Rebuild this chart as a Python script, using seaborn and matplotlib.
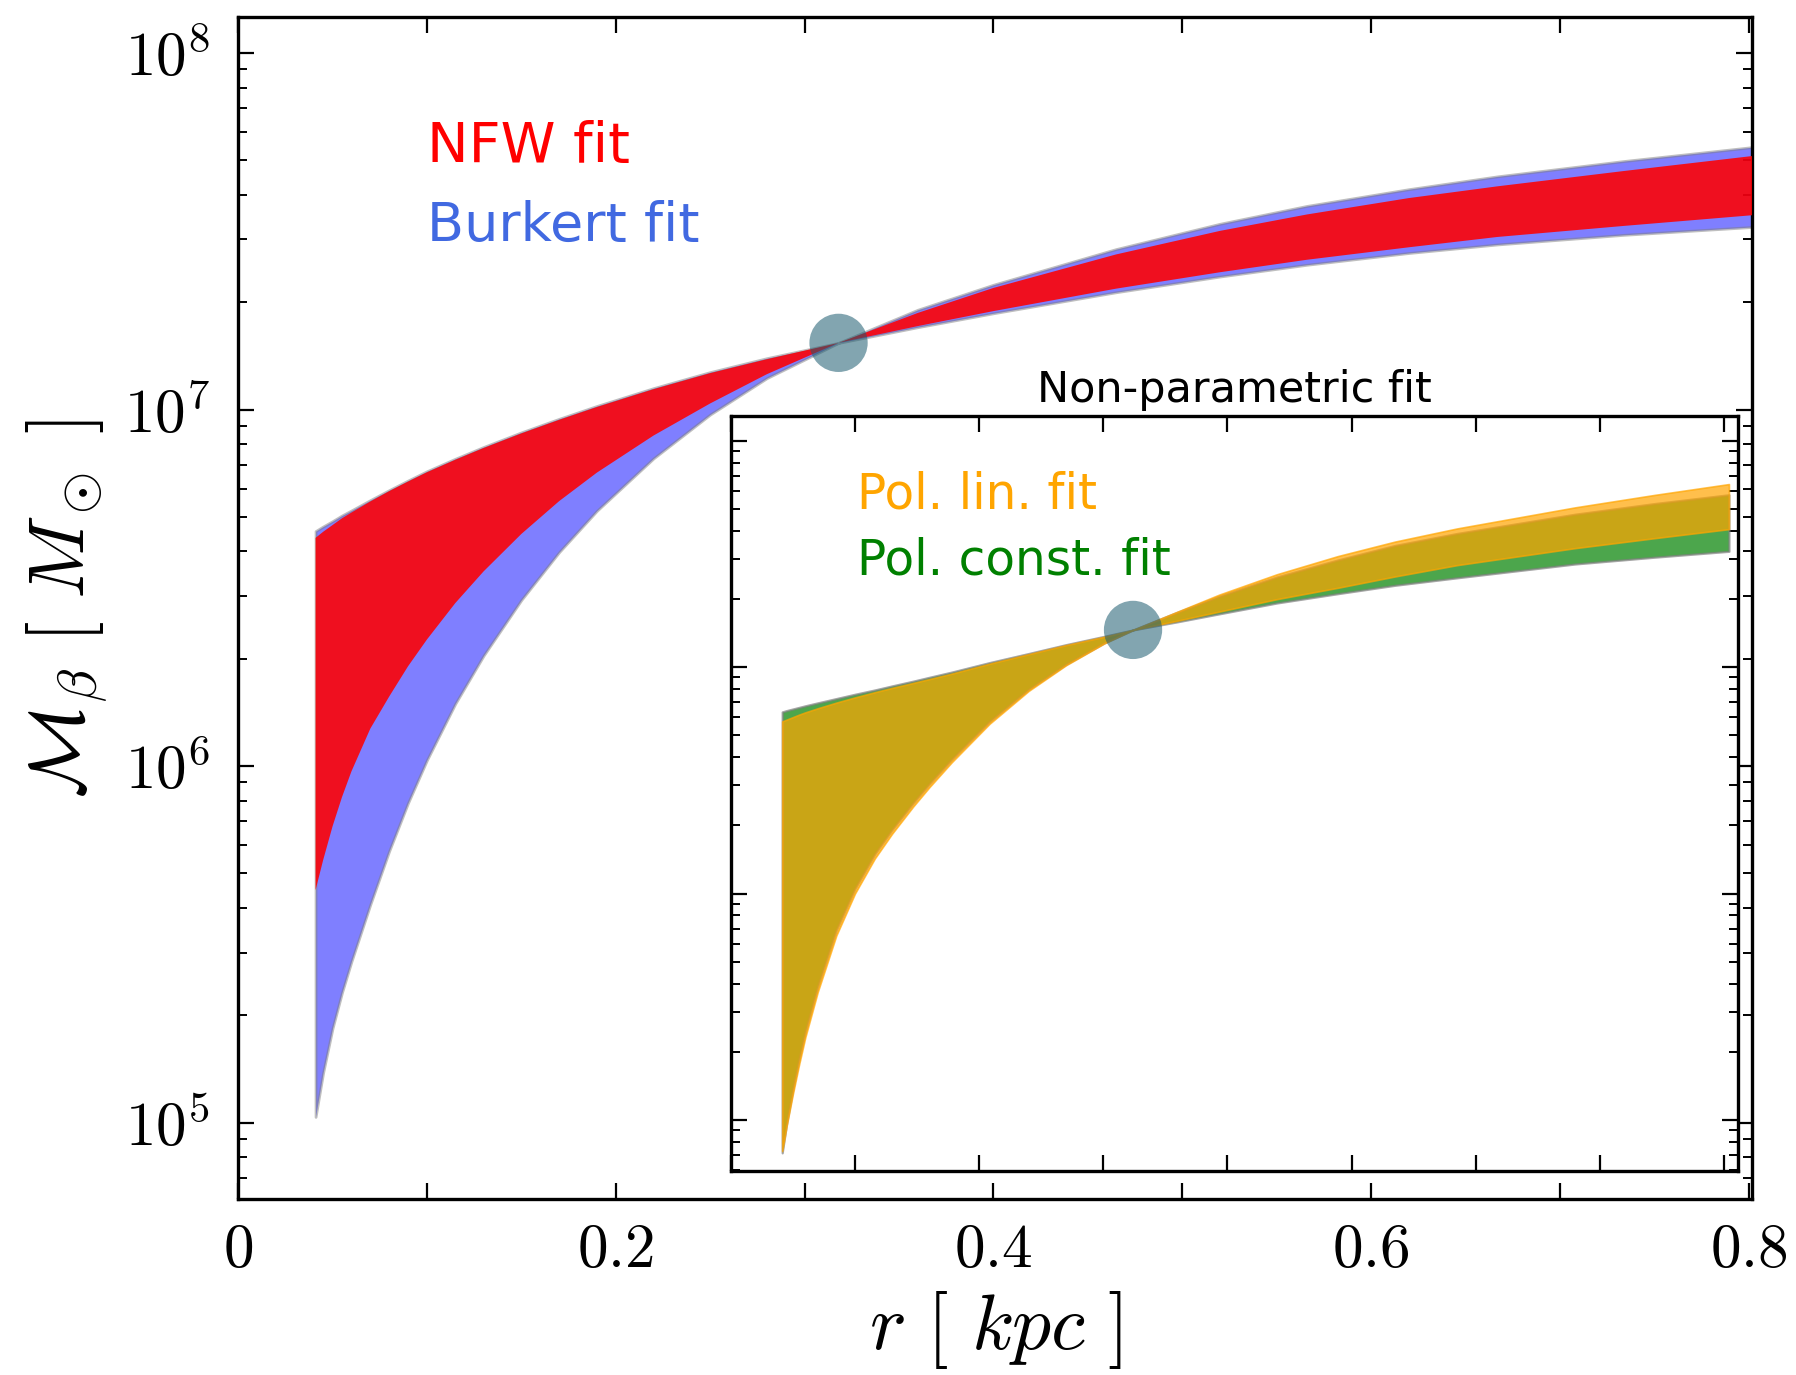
import numpy as np
import matplotlib
matplotlib.use("Agg")
import matplotlib.pyplot as plt
import seaborn as sns
from matplotlib.ticker import FixedLocator, FixedFormatter, LogLocator, NullFormatter

# ---------------- data (log10 of M in solar masses) ----------------
r_main = [0.041, 0.045, 0.05, 0.055, 0.06, 0.07, 0.08, 0.09, 0.10, 0.115, 0.13, 0.15,
          0.17, 0.19, 0.22, 0.25, 0.28, 0.318, 0.36, 0.40, 0.465, 0.52, 0.566, 0.62,
          0.667, 0.734, 0.802]
burkert_a = [6.659, 6.672, 6.687, 6.703, 6.717, 6.746, 6.774, 6.801, 6.827, 6.862, 6.895, 6.936,
             6.974, 7.010, 7.060, 7.105, 7.144, 7.187, 7.231, 7.270, 7.329, 7.373, 7.406, 7.439,
             7.463, 7.490, 7.512]
burkert_b = [5.016, 5.140, 5.265, 5.365, 5.452, 5.612, 5.762, 5.897, 6.017, 6.175, 6.310, 6.466,
             6.600, 6.716, 6.863, 6.986, 7.088, 7.187, 7.280, 7.350, 7.450, 7.521, 7.571, 7.618,
             7.654, 7.697, 7.736]
nfw_a = [6.640, 6.657, 6.676, 6.695, 6.711, 6.742, 6.771, 6.798, 6.824, 6.859, 6.892, 6.933,
         6.971, 7.007, 7.057, 7.102, 7.141, 7.187, 7.234, 7.276, 7.339, 7.385, 7.420, 7.455,
         7.484, 7.515, 7.545]
nfw_b = [5.652, 5.736, 5.831, 5.913, 5.985, 6.105, 6.195, 6.280, 6.355, 6.457, 6.546, 6.651,
         6.743, 6.823, 6.927, 7.017, 7.099, 7.187, 7.271, 7.341, 7.435, 7.501, 7.547, 7.593,
         7.626, 7.669, 7.711]

r_in = [0.0414, 0.045, 0.05, 0.055, 0.06, 0.07, 0.085, 0.10, 0.116, 0.13, 0.147, 0.16,
        0.178, 0.2085, 0.24, 0.27, 0.301, 0.324, 0.36, 0.3935, 0.44, 0.489, 0.535, 0.585,
        0.68, 0.744, 0.804]
const_a = [6.802, 6.808, 6.815, 6.822, 6.829, 6.842, 6.861, 6.880, 6.899, 6.917, 6.938, 6.955,
           6.978, 7.020, 7.060, 7.099, 7.136, 7.164, 7.200, 7.235, 7.283, 7.324, 7.361, 7.394,
           7.455, 7.485, 7.511]
const_b = [4.855, 4.985, 5.135, 5.270, 5.390, 5.590, 5.840, 6.022, 6.175, 6.283, 6.401, 6.485,
           6.593, 6.760, 6.902, 7.012, 7.107, 7.164, 7.243, 7.313, 7.398, 7.473, 7.537, 7.590,
           7.675, 7.722, 7.761]
lin_a = [6.760, 6.768, 6.779, 6.790, 6.800, 6.818, 6.843, 6.866, 6.889, 6.908, 6.930, 6.947,
         6.971, 7.015, 7.057, 7.097, 7.134, 7.164, 7.205, 7.245, 7.300, 7.350, 7.400, 7.450,
         7.525, 7.569, 7.609]
lin_b = [4.863, 4.975, 5.115, 5.245, 5.365, 5.565, 5.815, 6.000, 6.155, 6.265, 6.385, 6.470,
         6.580, 6.750, 6.895, 7.008, 7.105, 7.164, 7.245, 7.320, 7.410, 7.490, 7.554, 7.612,
         7.705, 7.760, 7.808]

pivot_main = (0.318, 7.187)
pivot_in = (0.324, 7.164)

x_ticks = [0.0, 0.1, 0.2, 0.3, 0.4, 0.5, 0.6, 0.7, 0.8]
x_tick_labels = [r'$0$', '', r'$0.2$', '', r'$0.4$', '', r'$0.6$', '', r'$0.8$']
y_ticks = [1e5, 1e6, 1e7, 1e8]
y_tick_labels = [r'$10^{5}$', r'$10^{6}$', r'$10^{7}$', r'$10^{8}$']

# ---------------- style ----------------
sns.set_style("ticks", {"axes.edgecolor": "black", "xtick.color": "black",
                        "ytick.color": "black", "xtick.direction": "in",
                        "ytick.direction": "in", "text.color": "black",
                        "axes.labelcolor": "black"})
plt.rcParams['font.family'] = ['DejaVu Sans']
plt.rcParams['mathtext.fontset'] = 'cm'

fig = plt.figure(figsize=(8.98, 6.875), dpi=200)
ax = fig.add_axes([0.1326, 0.1278, 0.8431, 0.8596])
axin = fig.add_axes([0.4069, 0.1487, 0.5606, 0.549])
axin.set_facecolor('white')

p = lambda v: 10 ** np.asarray(v)

# main bands
ax.fill_between(r_main, p(burkert_b), p(burkert_a), facecolor='blue', edgecolor='gray',
                alpha=0.5, linewidth=1.0, zorder=2)
ax.fill_between(r_main, p(nfw_b), p(nfw_a), facecolor='red', edgecolor='none',
                alpha=0.88, linewidth=0, zorder=3)
sns.scatterplot(x=[pivot_main[0]], y=[10 ** pivot_main[1]], s=440, color='#1c5b6f',
                alpha=0.55, edgecolor='none', ax=ax, zorder=5, legend=False)

ax.text(0.1, 10 ** 7.737, 'NFW fit', color='red', fontsize=20, ha='left', va='center')
ax.text(0.1, 10 ** 7.515, 'Burkert fit', color='royalblue', fontsize=19.5, ha='left',
        va='center')

# inset bands
axin.fill_between(r_in, p(const_b), p(const_a), facecolor='green', edgecolor='gray',
                  alpha=0.7, linewidth=0.8, zorder=2)
axin.fill_between(r_in, p(lin_b), p(lin_a), facecolor='orange', edgecolor='orange',
                  alpha=0.7, linewidth=0.6, zorder=3)
sns.scatterplot(x=[pivot_in[0]], y=[10 ** pivot_in[1]], s=440, color='#1c5b6f',
                alpha=0.55, edgecolor='none', ax=axin, zorder=5, legend=False)
axin.text(0.1015, 10 ** 7.761, 'Pol. lin. fit', color='orange', fontsize=17.5,
          ha='left', va='center')
axin.text(0.1015, 10 ** 7.469, 'Pol. const. fit', color='green', fontsize=17.5,
          ha='left', va='center')
axin.set_title('Non-parametric fit', fontsize=15.5, pad=5, color='black')

# axes formatting
for a, xr, yr in [(ax, (0, 0.802), (10 ** 4.785, 10 ** 8.1)),
                  (axin, (0, 0.811), (10 ** 4.777, 10 ** 8.11))]:
    a.set_yscale('log')
    a.set_xlim(*xr)
    a.set_ylim(*yr)
    a.xaxis.set_major_locator(FixedLocator(x_ticks))
    a.yaxis.set_major_locator(FixedLocator(y_ticks))
    a.yaxis.set_minor_locator(LogLocator(base=10, subs=np.arange(2, 10), numticks=100))
    a.yaxis.set_minor_formatter(NullFormatter())
    a.tick_params(which='both', direction='in', top=True, right=True, color='black')
    a.tick_params(which='major', length=5.8, width=0.8)
    a.tick_params(which='minor', length=3.2, width=0.7)
    for s in a.spines.values():
        s.set_linewidth(1.2)
        s.set_color('black')
    a.set_xlabel('')
    a.set_ylabel('')

ax.xaxis.set_major_formatter(FixedFormatter(x_tick_labels))
ax.yaxis.set_major_formatter(FixedFormatter(y_tick_labels))
ax.tick_params(which='major', labelsize=22, labelcolor='black')
ax.tick_params(axis='x', which='major', pad=8)
ax.tick_params(axis='y', which='major', pad=10)
axin.tick_params(which='both', labelleft=False, labelbottom=False)

ax.set_xlabel(r'$r\ [\ kpc\ ]$', fontsize=28, color='black')
ax.set_ylabel(r'$\mathcal{M}_\beta\ [\ M_\odot\ ]$', fontsize=28, color='black')
ax.xaxis.set_label_coords(0.5, -0.076)
ax.yaxis.set_label_coords(-0.085, 0.5)

fig.savefig('out.png', dpi=200)
